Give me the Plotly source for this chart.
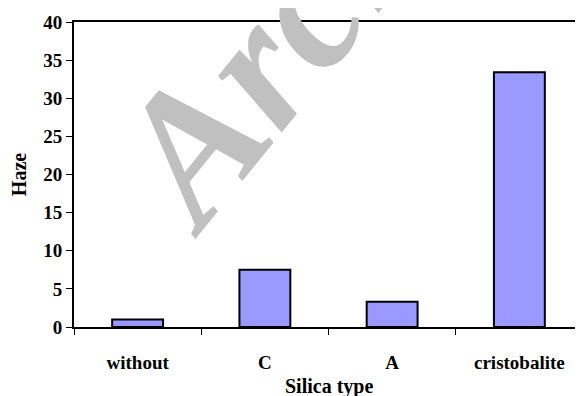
import plotly.graph_objects as go

categories = ["without", "C", "A", "cristobalite"]
haze = [1.0, 7.5, 3.3, 33.4]
y_ticks = [0, 5, 10, 15, 20, 25, 30, 35, 40]

FONT = "Liberation Serif"

fig = go.Figure()
fig.add_trace(go.Bar(
    x=categories, y=haze, width=0.4,
    marker=dict(color="#9999FF", line=dict(color="black", width=2)),
))

fig.update_layout(
    width=575, height=388,
    margin=dict(l=66, r=0, t=14, b=69),
    paper_bgcolor="white", plot_bgcolor="white",
    showlegend=False,
    font=dict(family=FONT, size=19, color="black"),
    xaxis=dict(
        type="category", range=[-0.5, 3.5], automargin=False,
        showline=True, linecolor="black", linewidth=2, mirror=True,
        ticks="outside", tickson="boundaries", ticklen=6, tickcolor="black", tickwidth=1,
        showgrid=False, ticklabelstandoff=17,
        tickfont=dict(family=FONT, size=19, weight="bold"),
    ),
    yaxis=dict(
        range=[0, 40], tickvals=y_ticks, automargin=False,
        showline=True, linecolor="black", linewidth=2,
        ticks="outside", ticklen=6, tickcolor="black", tickwidth=1,
        showgrid=False, zeroline=False,
        tickfont=dict(family=FONT, size=19, weight="bold"),
        title=dict(text="<b>Haze</b>", font=dict(family=FONT, size=20), standoff=13),
    ),
)

fig.add_annotation(
    text="<b>Silica type</b>", xref="paper", yref="paper",
    x=0.5, y=-0.196, xanchor="center", yanchor="middle", showarrow=False,
    font=dict(family=FONT, size=20, color="black"),
)

fig.add_annotation(
    text="Archive of SID", xref="paper", yref="paper",
    x=0.8605, y=1.898, xanchor="center", yanchor="middle",
    textangle=-51, showarrow=False,
    font=dict(family=FONT, size=185, color="#C0C0C0", weight="bold", style="italic"),
)

fig.write_html("out.html")
